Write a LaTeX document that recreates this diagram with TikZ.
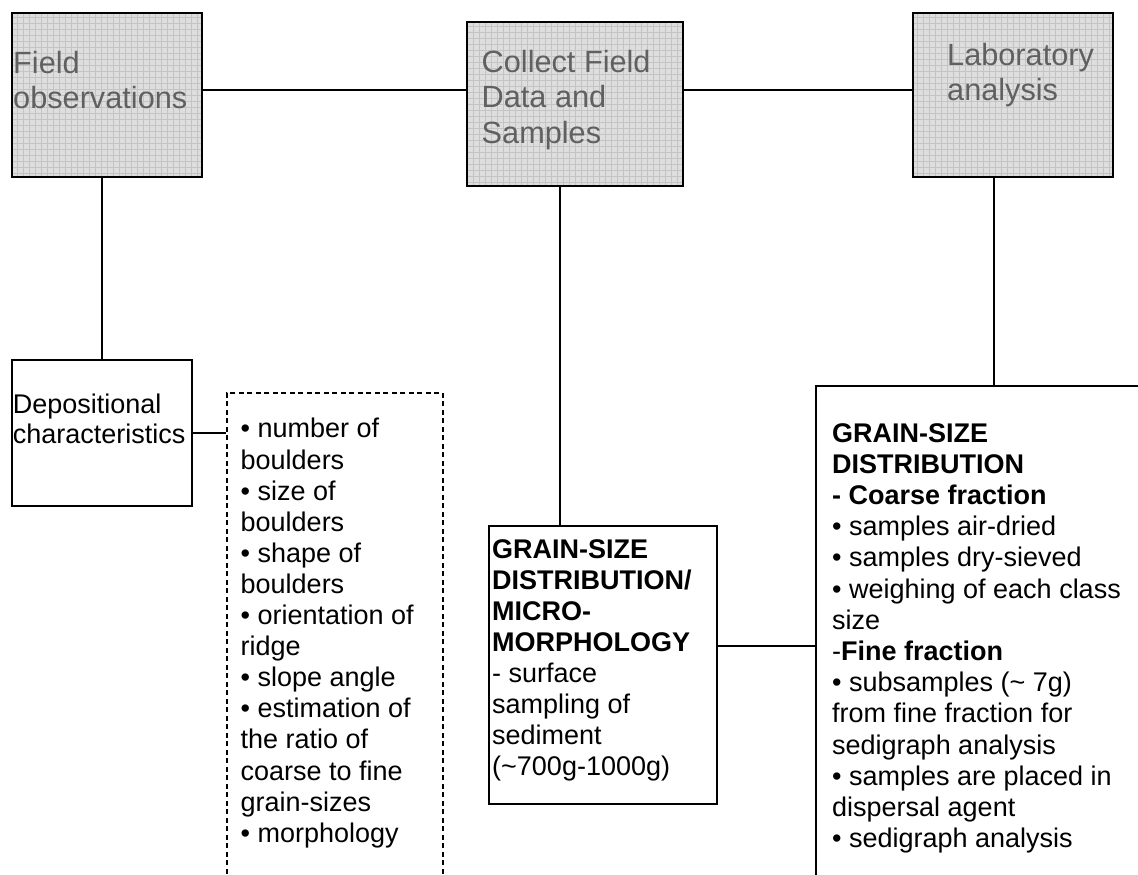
\documentclass[tikz,border=0pt]{standalone}
\usepackage{fontspec}
\setmainfont{Liberation Sans}
\usetikzlibrary{positioning}
\definecolor{headfill}{HTML}{DEDEDE}
\definecolor{headgrid}{HTML}{C4C4C4}
\definecolor{headink}{HTML}{606060}
\newcommand{\headfont}{\fontsize{30.7}{35.3}\selectfont}
\newcommand{\bodyfont}{\fontsize{27}{31.2}\selectfont}
\tikzset{
  head/.style    = {rectangle, draw=black, line width=1.8pt, fill=headfill,
                    anchor=north west, inner sep=0pt, minimum height=164pt,
                    path picture={\draw[headgrid, line width=0.6pt]
                      (path picture bounding box.south west) grid[step=6pt]
                      (path picture bounding box.north east);}},
  item/.style    = {rectangle, draw=black, line width=1.5pt, fill=white,
                    anchor=north west, inner sep=0pt},
  notebox/.style = {item, dash pattern=on 5pt off 3.5pt},
  headtxt/.style = {anchor=north west, inner sep=0pt, align=left,
                    font=\headfont, text=headink},
  bodytxt/.style = {anchor=north west, inner sep=0pt, align=left,
                    font=\bodyfont},
  link/.style    = {draw=black, line width=1.7pt},
}

\begin{document}
\begin{tikzpicture}[x=1pt, y=-1pt]
  \useasboundingbox (0,0) rectangle (1138,875);
  \clip (0,0) rectangle (1138,875);

  % top row
  \node[head, minimum width=190pt] (field) at (11,12) {};
  \node[head, minimum width=216pt] (collect) at (466,21) {};
  \node[head, minimum width=200pt] (lab) at (912,12) {};
  \node[headtxt, below right=36.5pt and 2pt of field.north west] (fieldtxt)
       {\strut Field\\observations};
  \node[headtxt, below right=26pt and 15.5pt of collect.north west, font=\fontsize{30.7}{35.5}\selectfont] (collecttxt)
       {\strut Collect Field\\Data and\\Samples};
  \node[headtxt, below right=28.5pt and 35pt of lab.north west] (labtxt)
       {\strut Laboratory\\analysis};

  % second level
  \node[item, minimum width=180pt, minimum height=146pt] (depo) at (11,359) {};
  \node[bodytxt, below right=33pt and 1.7pt of depo.north west, font=\fontsize{27}{30}\selectfont] (depotxt)
       {\strut Depositional\\characteristics};

  \node[notebox, minimum width=216pt, minimum height=520pt] (notes) at (226,392) {};
  \node[bodytxt, below right=24pt and 14.5pt of notes.north west, font=\fontsize{27}{31.1}\selectfont] (notestxt)
       {\strut • number of\\boulders\\• size of\\boulders\\• shape of\\boulders\\• orientation of\\ridge\\• slope angle\\• estimation of\\the ratio of\\coarse to fine\\grain-sizes\\• morphology};

  \node[item, minimum width=228pt, minimum height=278pt] (mid) at (488,525) {};
  \node[bodytxt, below right=12pt and 4pt of mid.north west, font=\fontsize{27}{31}\selectfont] (midtxt)
       {\strut\textbf{GRAIN-SIZE}\\\textbf{DISTRIBUTION/}\\\textbf{MICRO-}\\\textbf{MORPHOLOGY}\\- surface\\sampling of\\sediment\\(\textasciitilde700g-1000g)};

  \node[item, minimum width=360pt, minimum height=520pt] (detail) at (815,385) {};
  \node[bodytxt, below right=35pt and 17pt of detail.north west] (detailtxt)
       {\strut\textbf{GRAIN-SIZE}\\\textbf{DISTRIBUTION}\\\textbf{- Coarse fraction}\\• samples air-dried\\• samples dry-sieved\\• weighing of each class\\size\\-\textbf{Fine fraction}\\• subsamples (\textasciitilde{} 7g)\\from fine fraction for\\sedigraph analysis\\• samples are placed in\\dispersal agent\\• sedigraph analysis};

  % connectors
  \coordinate (fieldout) at ([yshift=5pt]field.east);
  \coordinate (collectout) at ([yshift=14pt]collect.east);
  \coordinate (collectdown) at ([xshift=-15pt]collect.south);
  \coordinate (labdown) at ([xshift=-19pt]lab.south);
  \coordinate (midout) at ([yshift=19pt]mid.east);

  \draw[link] (fieldout) -- (fieldout -| collect.west);
  \draw[link] (collectout) -- (collectout -| lab.west);
  \draw[link] (depo.north |- field.south) -- (depo.north);
  \draw[link] (depo.east) -- (depo.east -| notes.west);
  \draw[link] (collectdown) -- (collectdown |- mid.north);
  \draw[link] (midout) -- (midout -| detail.west);
  \draw[link] (labdown) -- (labdown |- detail.north);
\end{tikzpicture}
\end{document}
